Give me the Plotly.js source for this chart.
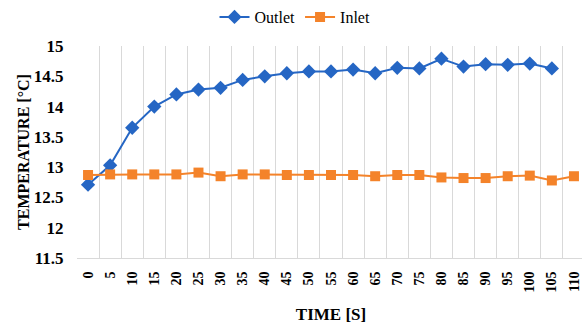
<!DOCTYPE html>
<html><head><meta charset="utf-8">
<script src="https://cdn.plot.ly/plotly-3.0.1.min.js"></script>
<style>html,body{margin:0;padding:0;overflow:hidden;width:582px;height:327px;background:#fff}</style>
</head><body><div id="c"></div>
<script>
const time = [0,5,10,15,20,25,30,35,40,45,50,55,60,65,70,75,80,85,90,95,100,105,110];
const outletTime = [0,5,10,15,20,25,30,35,40,45,50,55,60,65,70,75,80,85,90,95,100,105];
const outlet = [12.71,13.03,13.65,14.00,14.20,14.28,14.31,14.44,14.50,14.55,14.58,14.58,14.61,14.55,14.64,14.63,14.79,14.66,14.70,14.69,14.71,14.63];
const inlet = [12.87,12.88,12.88,12.88,12.88,12.91,12.85,12.88,12.88,12.87,12.87,12.87,12.87,12.85,12.87,12.87,12.83,12.82,12.82,12.85,12.86,12.78,12.85];
const yTicks = [11.5,12,12.5,13,13.5,14,14.5,15];
const serif = 'Liberation Serif, Times New Roman, serif';
const bounds = time.map(t => t - 2.5).concat([112.5]);
const traces = [
  {x: outletTime, y: outlet, name: 'Outlet', type: 'scatter', mode: 'lines+markers',
   line: {color: '#2566C4', width: 2}, marker: {symbol: 'diamond', size: 11, color: '#2566C4'}},
  {x: time, y: inlet, name: 'Inlet', type: 'scatter', mode: 'lines+markers',
   line: {color: '#F4832A', width: 2}, marker: {symbol: 'square', size: 10, color: '#F4832A'}}
];
const layout = {
  width: 590, height: 327,
  margin: {l: 77, r: 5, t: 46, b: 69},
  paper_bgcolor: '#fff', plot_bgcolor: '#fff',
  showlegend: true,
  legend: {orientation: 'h', x: 0.5, xanchor: 'center', xref: 'container', y: 1.0, yanchor: 'top', yref: 'container',
           font: {family: serif, size: 16, color: '#000'}, itemwidth: 30, traceorder: 'normal'},
  xaxis: {
    type: 'linear', range: [-2.5, 112.5], tickvals: time, ticktext: time.map(String),
    tickangle: -90, showgrid: false, zeroline: false, ticks: '', ticklen: 0,
    tickfont: {family: serif, size: 14, color: '#000', weight: 'bold'}, ticklabelstandoff: 7,
    showline: true, linecolor: '#d9d9d9', linewidth: 1,
    minor: {tickvals: bounds, showgrid: true, gridcolor: '#d9d9d9', gridwidth: 1, ticks: ''},
    title: {text: 'TIME [S]', font: {family: serif, size: 17, color: '#000', weight: 'bold'}, standoff: 16},
    fixedrange: true
  },
  yaxis: {
    range: [11.5, 15], tickvals: yTicks, ticktext: yTicks.map(String), showgrid: false, zeroline: false,
    tickfont: {family: serif, size: 17, color: '#000', weight: 'bold'},
    ticks: 'outside', ticklen: 9, tickcolor: 'rgba(0,0,0,0)',
    title: {text: 'TEMPERATURE [°C]', font: {family: serif, size: 16, color: '#000', weight: 'bold'}, standoff: 0},
    fixedrange: true
  }
};
Plotly.newPlot('c', traces, layout, {displayModeBar: false, staticPlot: true});
</script></body></html>
